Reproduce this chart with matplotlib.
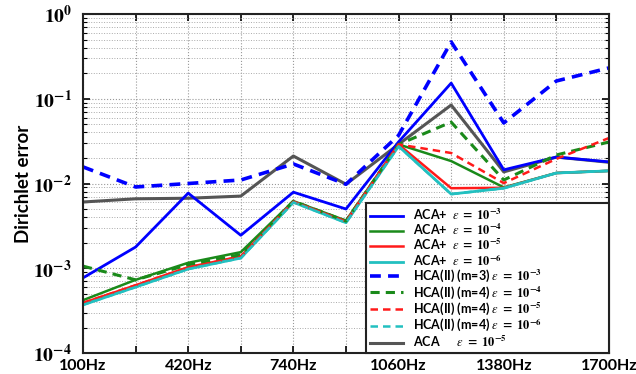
import matplotlib
matplotlib.use('Agg')
import matplotlib.pyplot as plt
import matplotlib.transforms as mtransforms
import numpy as np
from matplotlib.ticker import LogLocator, NullFormatter

plt.rcParams['font.family'] = ['Lato', 'DejaVu Sans']
plt.rcParams['mathtext.fontset'] = 'stix'

# frequencies (one point every 160 Hz, label every other)
freqs = [100, 260, 420, 580, 740, 900, 1060, 1220, 1380, 1540, 1700]

# ACA+ solid lines
aca_p_3 = [7.7e-4, 1.78e-3, 7.7e-3, 2.45e-3, 7.9e-3, 5.0e-3, 0.031, 0.153, 0.0145, 0.0205, 0.018]
aca_p_4 = [4.2e-4, 7.3e-4, 1.16e-3, 1.55e-3, 6.2e-3, 3.65e-3, 0.0289, 0.0184, 9.0e-3, 0.0133, 0.0141]
aca_p_5 = [3.9e-4, 6.3e-4, 1.03e-3, 1.38e-3, 6.1e-3, 3.55e-3, 0.0289, 8.8e-3, 8.9e-3, 0.0133, 0.0141]
aca_p_6 = [3.7e-4, 6.0e-4, 9.8e-4, 1.32e-3, 6.0e-3, 3.45e-3, 0.0275, 7.5e-3, 8.8e-3, 0.0133, 0.0141]

# HCA(II) dashed lines
hca_3 = [0.0157, 9.1e-3, 0.0100, 0.0110, 0.0170, 0.0098, 0.037, 0.468, 0.0518, 0.162, 0.231]
hca_4 = [1.06e-3, 7.3e-4, 1.1e-3, 1.45e-3, 6.2e-3, 3.6e-3, 0.0289, 0.053, 0.011, 0.0217, 0.0309]
hca_5 = [3.9e-4, 6.3e-4, 1.02e-3, 1.37e-3, 6.1e-3, 3.55e-3, 0.0289, 0.0229, 0.0101, 0.0195, 0.0344]
hca_6 = [3.7e-4, 6.0e-4, 9.8e-4, 1.32e-3, 6.0e-3, 3.45e-3, 0.0275, 7.5e-3, 8.8e-3, 0.0133, 0.0141]

# plain ACA
aca_5 = [6.05e-3, 6.6e-3, 6.7e-3, 7.1e-3, 0.0211, 0.0098, 0.029, 0.0843, 0.0137, 0.0205, 0.0178]

xtick_labels = ['100Hz', '', '420Hz', '', '740Hz', '', '1060Hz', '', '1380Hz', '', '1700Hz']

BLUE = '#0000ff'
GREEN = '#1a8a1a'
RED = '#ff1a1a'
CYAN = '#22c0c0'
GRAY = '#555555'


def eps(p):
    return r'$\varepsilon\ \mathbf{=\ 10^{-%d}}$' % p


fig = plt.figure(figsize=(6.36, 3.74), dpi=100)
ax = fig.add_axes([0.1305, 0.0561, 0.827, 0.9065])

x = np.arange(len(freqs))
dash = (0, (3, 2))

ax.plot(x, aca_p_3, color=BLUE, lw=2, label='ACA+  ' + eps(3))
ax.plot(x, aca_p_4, color=GREEN, lw=1.8, label='ACA+  ' + eps(4))
ax.plot(x, aca_p_5, color=RED, lw=1.8, label='ACA+  ' + eps(5))
ax.plot(x, aca_p_6, color=CYAN, lw=2, label='ACA+  ' + eps(6))
ax.plot(x, hca_3, color=BLUE, lw=2.6, ls=dash, label='HCA(II) (m=3) ' + eps(3))
ax.plot(x, hca_4, color=GREEN, lw=2.2, ls=dash, label='HCA(II) (m=4) ' + eps(4))
ax.plot(x, hca_5, color=RED, lw=1.8, ls=dash, label='HCA(II) (m=4) ' + eps(5))
ax.plot(x, hca_6, color=CYAN, lw=1.8, ls=dash, label='HCA(II) (m=4) ' + eps(6))
ax.plot(x, aca_5, color=GRAY, lw=2.2, label='ACA      ' + eps(5), zorder=1.9)

ax.set_yscale('log')
ax.set_ylim(1e-4, 1)
ax.set_xlim(0, len(freqs) - 1)

ax.set_xticks(x)
ax.set_xticklabels(xtick_labels, fontsize=11.5, fontweight='bold')
ax.set_yticks([1e-4, 1e-3, 1e-2, 1e-1, 1])
ax.set_yticklabels([r'$\mathbf{10^{-4}}$', r'$\mathbf{10^{-3}}$', r'$\mathbf{10^{-2}}$',
                    r'$\mathbf{10^{-1}}$', r'$\mathbf{10^{0}}$'], fontsize=14)
# nudge the lowest y label up a little so it clears "100Hz"
low = ax.get_yticklabels()[0]
low.set_transform(low.get_transform() +
                  mtransforms.ScaledTranslation(0, 0.05, fig.dpi_scale_trans))
ax.yaxis.set_minor_locator(LogLocator(base=10, subs=np.arange(2, 10), numticks=20))
ax.yaxis.set_minor_formatter(NullFormatter())

ax.tick_params(which='both', direction='in', top=True, right=True)
ax.tick_params(axis='x', pad=4)
ax.tick_params(axis='y', pad=8)
ax.tick_params(which='major', length=5, width=1.2)
ax.tick_params(which='minor', length=3, width=0.8)

ax.grid(True, which='major', ls=':', color='#999999', lw=0.8)
ax.grid(True, which='minor', axis='y', ls=':', color='#aaaaaa', lw=0.7)
for s in ax.spines.values():
    s.set_linewidth(1.5)
    s.set_color('#222222')

ax.set_ylabel('Dirichlet error', fontsize=13.5, fontweight='bold', labelpad=1)

leg = ax.legend(loc='lower left', bbox_to_anchor=(0.538, 0.0, 0.462, 0.4), mode='expand',
                prop={'weight': 'bold', 'size': 9},
                frameon=True, fancybox=False, edgecolor='#222222', framealpha=1,
                handlelength=2.7, handletextpad=0.8, labelspacing=0.0,
                borderaxespad=0, borderpad=0.3)
leg.get_frame().set_linewidth(1.5)

fig.savefig('out.png', dpi=100)
